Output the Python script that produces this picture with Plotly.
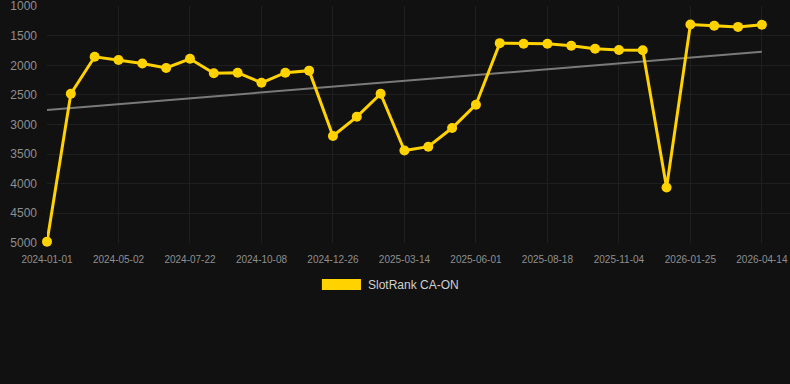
import numpy as np
import plotly.graph_objects as go

dates = [
    "2024-01-01", "2024-02-10", "2024-03-22", "2024-05-02", "2024-05-29", "2024-06-25",
    "2024-07-22", "2024-08-17", "2024-09-12", "2024-10-08", "2024-11-03", "2024-11-30",
    "2024-12-26", "2025-01-21", "2025-02-16", "2025-03-14", "2025-04-09", "2025-05-06",
    "2025-06-01", "2025-06-27", "2025-07-23", "2025-08-18", "2025-09-13", "2025-10-09",
    "2025-11-04", "2025-12-01", "2025-12-28", "2026-01-25", "2026-02-20", "2026-03-19",
    "2026-04-14",
]
rank = [
    4980, 2480, 1855, 1910, 1970, 2045, 1890, 2135, 2125, 2295, 2125, 2090,
    3195, 2870, 2480, 3440, 3375, 3060, 2665, 1625, 1635, 1635, 1670, 1720,
    1740, 1745, 4065, 1310, 1330, 1350, 1315,
]
tick_labels = dates[::3]
y_ticks = [1000, 1500, 2000, 2500, 3000, 3500, 4000, 4500, 5000]
series_name = "SlotRank CA-ON"

idx = np.arange(len(rank))
slope, intercept = np.polyfit(idx, rank, 1)
trend = (slope * idx + intercept).tolist()

GOLD = "#ffd200"
FONT = "Arial, Liberation Sans, sans-serif"
GRID = "#1f1f1f"

fig = go.Figure()
fig.add_trace(go.Scatter(
    x=dates, y=trend, mode="lines",
    line=dict(color="#7a7a7a", width=2),
    showlegend=False, hoverinfo="skip", cliponaxis=False,
))
fig.add_trace(go.Scatter(
    x=dates, y=rank, mode="lines+markers", name=series_name,
    line=dict(color=GOLD, width=3),
    marker=dict(color=GOLD, size=10),
    showlegend=False, cliponaxis=False,
))

# manual legend
fig.add_shape(type="rect", xref="paper", yref="paper",
              x0=0.370, x1=0.4226, y0=-0.152, y1=-0.198,
              fillcolor=GOLD, line=dict(width=0))
fig.add_annotation(xref="paper", yref="paper", x=0.429, y=-0.177,
                   text=series_name, showarrow=False, xanchor="left", yanchor="middle",
                   font=dict(family=FONT, size=12, color="#d0d0d0"))

fig.update_layout(
    width=790, height=384,
    margin=dict(l=47, r=0, t=6, b=141),
    paper_bgcolor="#111111", plot_bgcolor="#111111",
    font=dict(family=FONT, color="#8f8f8f"),
    showlegend=False,
)
fig.update_xaxes(
    type="category", categoryorder="array", categoryarray=dates,
    range=[0, 31.18],
    tickmode="array", tickvals=tick_labels, ticktext=tick_labels,
    tickfont=dict(size=10, color="#8f8f8f"),
    showgrid=True, gridcolor=GRID, gridwidth=1,
    zeroline=False, showline=False, ticks="", ticklen=0,
    ticklabelstandoff=9,
)
fig.update_yaxes(
    range=[5003, 997],
    tickmode="array", tickvals=y_ticks,
    tickfont=dict(size=12, color="#8f8f8f"),
    showgrid=True, gridcolor=GRID, gridwidth=1,
    zeroline=False, showline=False, ticks="", ticklen=0,
    ticklabeloverflow="allow", ticklabelstandoff=9,
)

fig.write_html("out.html")
